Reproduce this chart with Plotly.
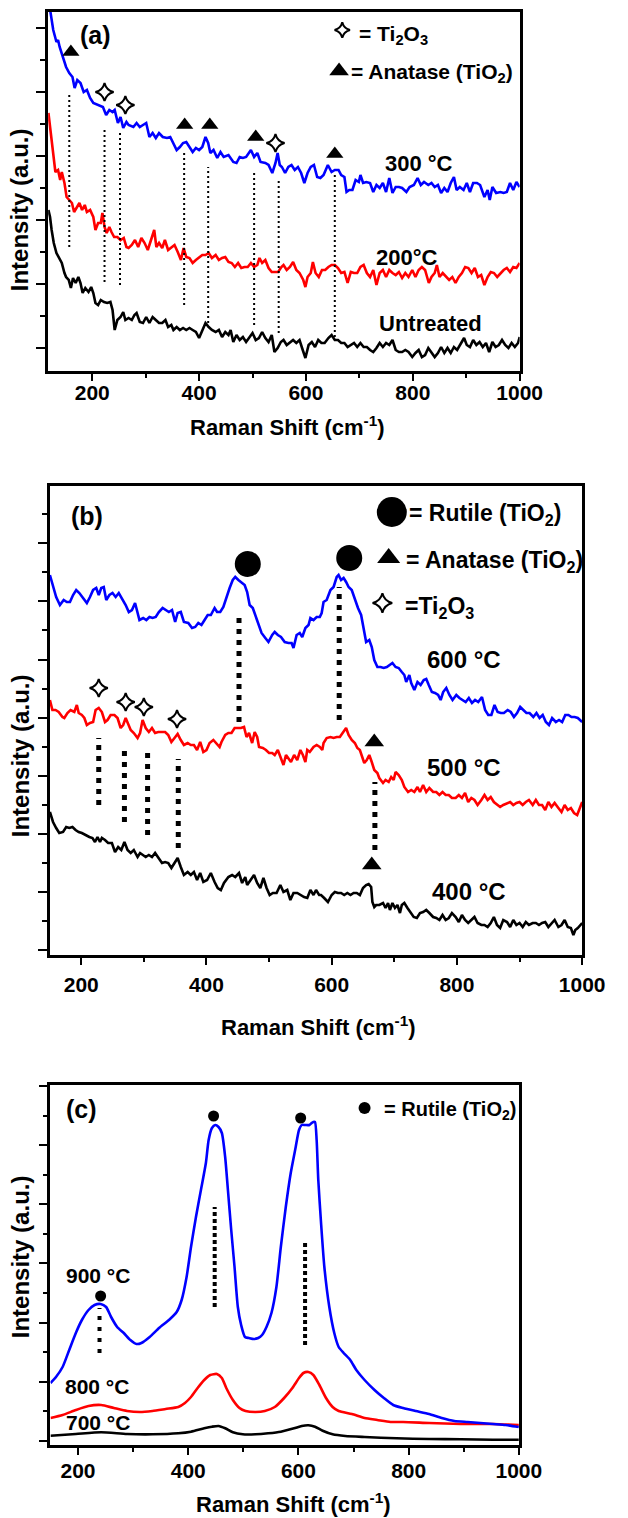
import plotly.graph_objects as go

W, H = 628, 1518

# ---------------- data (Raman shift cm^-1, intensity a.u.) ----------------
a_300C = [(118,372),(121,361),(127,341),(133,329),(136,331),(139,324),(145,314),(151,304),(157,298),(163,294),(167,283),(172,291),(178,288),(184,279),(190,281),(196,273),(202,268),(211,266),(220,264),(226,256),(232,261),(238,259),(242,261),(248,248),(253,254),(258,243),(264,249),(268,246),(277,244),(283,248),(289,244),(295,246),(301,248),(307,234),(313,238),(319,233),(325,238),(332,234),(340,233),(346,234),(352,228),(358,221),(364,224),(370,228),(376,229),(382,224),(388,219),(394,223),(400,221),(406,224),(412,234),(417,228),(421,218),(427,221),(434,213),(440,219),(446,214),(455,216),(464,209),(470,208),(476,214),(482,213),(488,214),(497,221),(503,214),(509,218),(515,209),(524,208),(530,206),(537,198),(543,208),(547,218),(551,206),(555,204),(561,198),(567,204),(573,206),(579,201),(585,204),(591,198),(597,188),(603,198),(609,204),(615,206),(621,194),(627,193),(633,196),(641,206),(648,199),(654,201),(661,201),(666,196),(672,194),(676,179),(681,181),(687,181),(693,191),(699,189),(702,196),(707,188),(713,189),(720,188),(726,179),(732,186),(738,183),(744,188),(750,179),(756,193),(762,178),(768,184),(774,184),(780,183),(788,179),(794,184),(802,186),(809,193),(815,186),(821,189),(829,186),(835,188),(841,184),(847,186),(853,178),(859,183),(865,179),(871,188),(877,194),(882,181),(888,184),(895,181),(901,188),(907,179),(913,188),(920,188),(926,186),(934,174),(940,181),(944,171),(949,184),(956,178),(964,179),(970,178),(976,179),(982,188),(988,181),(994,189),(1000,184)]
a_200C = [(118,258),(121,244),(124,228),(127,214),(131,199),(136,201),(140,191),(143,199),(148,188),(152,174),(157,171),(162,168),(166,159),(171,164),(176,168),(181,161),(186,166),(190,159),(196,161),(202,154),(206,141),(211,148),(216,148),(219,158),(223,144),(227,138),(232,144),(236,139),(241,134),(247,134),(253,131),(259,133),(264,124),(268,123),(274,126),(280,131),(286,124),(292,133),(298,128),(304,121),(310,131),(316,141),(320,124),(325,128),(331,123),(336,131),(342,121),(348,124),(354,126),(360,119),(366,111),(371,123),(376,114),(382,113),(388,108),(394,111),(400,114),(406,116),(412,116),(418,118),(424,113),(431,116),(437,111),(443,113),(449,114),(455,109),(461,108),(467,104),(473,108),(479,103),(485,104),(491,104),(497,108),(503,104),(509,106),(513,113),(518,108),(524,111),(530,103),(536,99),(542,99),(548,99),(554,104),(558,106),(564,101),(570,104),(576,109),(582,101),(588,98),(595,91),(599,84),(603,94),(609,98),(613,109),(618,98),(624,94),(630,101),(636,101),(642,104),(648,106),(654,106),(660,103),(666,98),(672,99),(678,88),(684,99),(690,98),(696,98),(702,104),(708,106),(714,98),(720,94),(726,101),(732,86),(738,98),(744,101),(750,94),(756,101),(762,98),(768,96),(774,99),(780,93),(786,98),(792,94),(799,101),(805,94),(811,101),(817,104),(823,101),(830,88),(835,94),(841,98),(845,106),(850,94),(856,98),(862,94),(868,91),(874,94),(880,88),(886,94),(892,98),(898,104),(904,103),(910,98),(916,103),(922,94),(928,96),(934,86),(940,94),(946,99),(952,98),(958,94),(964,98),(970,101),(976,103),(982,99),(988,104),(994,103),(1000,108)]
a_untreated = [(118,161),(121,154),(124,141),(128,128),(133,118),(139,111),(143,108),(148,98),(151,94),(156,91),(160,83),(164,93),(169,88),(174,94),(178,88),(182,78),(187,83),(193,79),(198,84),(202,78),(206,68),(211,66),(216,71),(222,69),(228,68),(234,69),(238,61),(242,41),(247,51),(253,54),(258,59),(262,51),(268,53),(274,51),(279,56),(283,58),(289,49),(295,48),(301,54),(307,48),(313,54),(319,51),(325,48),(331,48),(337,51),(342,44),(348,46),(352,41),(358,44),(364,41),(370,43),(376,41),(382,43),(388,41),(394,39),(400,33),(406,41),(412,48),(418,44),(424,41),(431,39),(437,41),(443,34),(449,39),(455,36),(459,41),(464,29),(470,36),(476,31),(482,34),(488,29),(494,33),(500,38),(506,31),(512,33),(518,39),(524,33),(530,29),(536,36),(541,19),(547,23),(553,29),(558,31),(564,26),(570,29),(576,31),(582,28),(588,31),(594,21),(599,13),(605,26),(611,29),(617,24),(623,31),(629,28),(635,28),(642,33),(648,36),(654,31),(660,31),(666,28),(672,28),(678,24),(684,26),(690,28),(696,24),(702,28),(708,24),(714,24),(720,21),(726,19),(732,23),(738,28),(744,24),(750,28),(756,26),(762,31),(768,21),(774,19),(780,19),(786,21),(792,19),(799,14),(805,18),(811,21),(817,14),(823,16),(829,23),(835,19),(841,14),(847,18),(853,24),(859,18),(865,23),(871,18),(877,24),(883,21),(889,26),(896,33),(901,26),(907,24),(913,31),(919,26),(925,29),(931,24),(937,28),(943,19),(949,29),(955,24),(961,26),(967,31),(973,26),(979,23),(985,28),(991,24),(997,28),(1000,34)]

b_600C = [(150,380),(155,368),(160,358),(166,350),(172,355),(177,353),(182,353),(187,360),(192,365),(197,362),(202,358),(209,352),(214,358),(219,365),(224,367),(228,360),(232,367),(236,368),(240,355),(245,360),(250,362),(255,358),(260,362),(264,358),(271,350),(276,343),(281,345),(286,352),(290,343),(293,335),(299,337),(304,335),(309,338),(314,337),(319,338),(324,343),(330,347),(335,345),(340,343),(345,345),(350,333),(354,342),(359,343),(364,333),(371,332),(377,327),(382,328),(387,332),(392,330),(397,335),(402,340),(407,340),(413,347),(417,343),(422,343),(427,348),(432,358),(437,367),(442,375),(446,378),(451,375),(456,372),(461,370),(465,363),(469,350),(474,347),(478,340),(483,332),(488,322),(494,317),(499,313),(505,320),(509,323),(514,320),(519,318),(525,313),(531,312),(536,312),(539,307),(544,320),(549,322),(553,318),(558,327),(563,330),(566,337),(571,335),(576,338),(581,338),(584,342),(587,353),(592,355),(598,365),(603,368),(608,378),(611,380),(615,375),(619,377),(623,373),(627,368),(632,365),(637,355),(642,347),(647,340),(651,328),(655,313),(660,315),(664,308),(668,295),(673,288),(678,288),(683,287),(688,288),(693,290),(697,292),(702,288),(707,287),(712,283),(716,280),(719,273),(724,280),(727,272),(732,265),(737,273),(742,270),(747,275),(751,276),(755,270),(760,263),(765,262),(770,260),(774,255),(778,263),(783,267),(788,260),(793,255),(799,260),(804,257),(809,255),(814,253),(819,257),(824,252),(829,255),(834,253),(840,258),(845,245),(850,240),(855,240),(860,250),(865,243),(870,242),(875,242),(881,245),(886,243),(891,238),(896,242),(901,248),(906,245),(911,242),(916,242),(922,238),(927,242),(932,237),(937,240),(942,233),(947,230),(952,237),(958,233),(963,235),(968,233),(973,240),(978,240),(983,238),(988,238),(993,237),(1000,233)]
b_500C = [(150,255),(154,245),(159,245),(164,243),(170,238),(173,237),(178,242),(183,245),(189,243),(193,250),(196,242),(201,240),(205,237),(209,230),(214,232),(219,233),(223,245),(228,247),(233,243),(238,233),(242,235),(247,240),(253,240),(258,237),(263,227),(267,230),(271,237),(274,232),(279,225),(284,222),(290,217),(294,222),(298,235),(303,227),(308,223),(313,227),(318,222),(323,223),(329,223),(334,223),(339,220),(344,213),(349,217),(354,221),(359,215),(364,210),(370,212),(375,210),(380,210),(385,205),(390,213),(395,203),(400,205),(405,212),(411,215),(416,212),(421,208),(424,213),(430,220),(435,222),(440,222),(445,227),(450,227),(455,227),(460,228),(464,218),(468,222),(473,212),(477,223),(481,218),(484,208),(490,207),(495,205),(500,202),(505,202),(509,200),(514,205),(519,197),(523,190),(527,200),(531,197),(535,193),(540,200),(545,195),(550,205),(554,200),(558,193),(561,205),(565,203),(571,208),(576,210),(581,208),(585,205),(587,212),(592,217),(598,218),(603,217),(608,218),(613,218),(618,222),(623,227),(627,220),(632,215),(637,212),(641,207),(645,205),(649,197),(652,192),(656,195),(660,200),(664,193),(668,185),(673,182),(676,177),(682,172),(686,175),(691,173),(695,178),(699,175),(702,183),(707,180),(712,175),(716,168),(722,163),(727,165),(732,163),(737,168),(741,163),(746,170),(751,163),(756,167),(762,163),(767,163),(772,160),(777,163),(782,160),(787,160),(792,157),(798,157),(803,160),(808,157),(813,162),(818,153),(823,157),(828,155),(833,150),(839,155),(844,160),(849,155),(854,158),(859,153),(864,150),(869,148),(874,150),(880,152),(885,153),(890,150),(895,152),(900,153),(905,150),(910,153),(915,155),(921,150),(926,155),(931,150),(936,150),(941,145),(946,153),(951,148),(956,152),(962,147),(967,143),(972,150),(977,145),(982,147),(987,142),(992,140),(996,147),(1000,153)]
b_400C = [(150,143),(155,133),(160,127),(165,122),(171,123),(176,128),(181,127),(186,128),(191,125),(196,123),(201,122),(206,120),(213,118),(218,117),(222,113),(226,118),(230,113),(233,117),(238,115),(243,112),(249,112),(254,103),(259,108),(264,105),(269,113),(274,105),(279,102),(284,105),(290,98),(294,102),(298,100),(303,98),(308,100),(313,98),(318,102),(323,97),(329,92),(334,93),(339,92),(344,87),(349,92),(354,97),(359,88),(364,80),(370,83),(375,80),(380,83),(385,75),(390,82),(395,73),(401,75),(407,82),(413,73),(418,67),(423,65),(428,72),(435,78),(441,80),(446,78),(452,82),(457,72),(462,78),(465,70),(471,75),(476,80),(481,72),(486,67),(491,77),(496,67),(501,60),(506,62),(512,62),(518,70),(523,63),(529,65),(534,55),(539,62),(545,62),(550,60),(556,58),(561,57),(566,65),(571,60),(575,65),(580,60),(583,60),(588,57),(594,53),(600,60),(605,63),(610,62),(615,62),(620,60),(625,62),(630,60),(635,62),(640,62),(645,60),(650,67),(655,70),(659,71),(663,68),(665,53),(668,48),(671,50),(676,50),(682,52),(686,47),(690,52),(693,45),(697,52),(701,47),(705,50),(709,42),(712,50),(716,52),(721,47),(726,43),(731,38),(736,37),(741,42),(746,43),(751,45),(756,42),(762,38),(767,37),(772,35),(777,40),(782,35),(787,37),(792,42),(798,38),(803,33),(808,40),(813,35),(818,32),(823,35),(828,38),(833,32),(839,30),(844,30),(849,28),(854,32),(859,38),(864,30),(869,27),(874,35),(880,33),(885,28),(890,35),(895,30),(900,32),(905,28),(910,33),(915,30),(921,32),(926,32),(931,30),(936,32),(941,33),(946,28),(951,32),(956,35),(962,28),(967,30),(972,35),(977,28),(982,27),(986,20),(989,25),(993,27),(1000,32)]

c_900C = [(150,62),(160,68),(172,78),(184,95),(196,112),(207,125),(219,135),(230,140),(241,141),(251,138),(260,128),(271,118),(283,112),(295,105),(306,101),(315,102),(330,108),(347,117),(365,125),(379,133),(388,145),(397,168),(405,198),(414,228),(423,255),(432,282),(437,305),(443,317),(449,320),(455,318),(461,312),(467,288),(472,255),(478,215),(484,178),(490,138),(496,120),(503,108),(510,107),(519,106),(527,107),(534,110),(542,118),(551,132),(560,158),(568,198),(577,238),(586,272),(595,298),(601,315),(606,320),(612,320),(620,320),(624,322),(627,323),(630,323),(633,305),(636,265),(641,222),(647,178),(656,138),(665,112),(673,98),(682,92),(694,85),(705,75),(720,65),(738,55),(755,47),(772,40),(790,37),(813,34),(837,31),(860,27),(883,24),(907,23),(930,22),(953,21),(976,20),(1000,18)]
c_800C = [(150,27),(172,30),(196,35),(219,39),(242,40),(265,37),(289,34),(312,33),(335,34),(359,36),(382,38),(394,42),(405,48),(417,57),(429,65),(440,70),(452,71),(461,67),(469,57),(481,45),(493,37),(504,34),(522,33),(539,34),(557,38),(574,47),(589,57),(601,67),(609,72),(618,73),(627,70),(638,60),(650,47),(662,38),(673,34),(697,31),(720,27),(743,25),(767,23),(790,23),(837,22),(895,21),(953,21),(1000,20)]
c_700C = [(150,9.3),(196,11),(242,12.7),(289,11),(335,10.7),(382,11.7),(405,13.3),(429,16.7),(443,18.3),(455,19),(467,16.7),(481,12.7),(499,10.7),(522,10.7),(545,11.7),(568,13.3),(592,16.7),(606,19),(618,19.7),(630,18.3),(644,14.3),(662,10.7),(685,9),(720,8),(778,6.7),(837,6),(895,5.7),(953,5.3),(1000,5.3)]

# Peak assignments (marker positions)
a_anatase_x = [160, 373, 420, 506, 654]
a_anatase_y = [319, 246, 246, 234, 217]
a_ti2o3_x = [223, 262, 543]
a_ti2o3_y = [279, 266, 228]
a_guide_x = [157, 223, 252, 372, 417, 503, 549, 654]
a_guide_top = [279, 244, 241, 219, 204, 201, 191, 196]
a_guide_bot = [124, 89, 86, 66, 48, 46, 38, 34]

b_rutile_x = [466, 628]
b_rutile_y = [391, 397]
b_ti2o3_x = [228, 271, 300, 353]
b_ti2o3_y = [267, 253, 248, 236]
b_anatase_x = [668, 664]
b_anatase_y = [213, 90]
b_guide_x = [228, 269, 306, 355, 452, 612, 669]
b_guide_top = [217, 210, 208, 196, 343, 368, 173]
b_guide_bot = [150, 133, 120, 107, 233, 235, 105]

c_rutile_x = [446, 604, 241]
c_rutile_y = [329, 327, 149]
c_guide_x = [239, 448, 612]
c_guide_top = [137, 238, 202]
c_guide_bot = [92, 138, 100]

FONT = "Arial, Liberation Sans, sans-serif"


def unzip(pairs):
    return [p[0] for p in pairs], [p[1] for p in pairs]


fig = go.Figure()


def curve(pairs, color, ax, smooth=False):
    x, y = unzip(pairs)
    line = dict(color=color, width=2.6)
    if smooth:
        line.update(shape="spline", smoothing=0.6)
    fig.add_trace(go.Scatter(x=x, y=y, mode="lines", line=line,
                             xaxis="x" + ax, yaxis="y" + ax,
                             showlegend=False, hoverinfo="skip"))


def markers(x, y, ax, symbol, size, lw=0):
    fig.add_trace(go.Scatter(x=x, y=y, mode="markers", xaxis="x" + ax, yaxis="y" + ax,
                             marker=dict(symbol=symbol, size=size, color="black",
                                         line=dict(color="black", width=lw)),
                             cliponaxis=False, showlegend=False, hoverinfo="skip"))


def guides(xs, tops, bots, ax, width, dash):
    for gx, t, b in zip(xs, tops, bots):
        fig.add_shape(type="line", x0=gx, x1=gx, y0=b, y1=t,
                      xref="x" + ax, yref="y" + ax,
                      line=dict(color="black", width=width, dash=dash))


def text(t, x, y, ax, size, xanchor="center"):
    fig.add_annotation(text=t, x=x, y=y, xref="x" + ax, yref="y" + ax,
                       showarrow=False, xanchor=xanchor, yanchor="middle",
                       font=dict(family=FONT, size=size, color="black", weight="bold"))


def ptext(t, px, py, size, angle=0, family=FONT):
    fig.add_annotation(text=t, x=px / W, y=1 - py / H, xref="paper", yref="paper",
                       showarrow=False, xanchor="center", yanchor="middle", textangle=angle,
                       font=dict(family=family, size=size, color="black", weight="bold"))


# ---- panel (a) ----
curve(a_untreated, "black", "")
curve(a_200C, "red", "")
curve(a_300C, "blue", "")
guides(a_guide_x, a_guide_top, a_guide_bot, "", 2, "2px,3px")
markers(a_anatase_x, a_anatase_y, "", "triangle-up", 15)
markers(a_ti2o3_x, a_ti2o3_y, "", "star-diamond-open", 13, 2)
markers([668], [341], "", "star-diamond-open", 11, 2)
markers([662], [300], "", "triangle-up", 17)
text("= Ti<sub>2</sub>O<sub>3</sub>", 695, 336, "", 21, "left")
text("= Anatase (TiO<sub>2</sub>)", 680, 298, "", 21, "left")
text("(a)", 206, 336, "", 25)
text("300 °C", 811, 207, "", 22)
text("200°C", 790, 113, "", 22)
text("Untreated", 833, 47, "", 22)

# ---- panel (b) ----
curve(b_400C, "black", "2")
curve(b_500C, "red", "2")
curve(b_600C, "blue", "2")
guides(b_guide_x, b_guide_top, b_guide_bot, "2", 5, "5px,6px")
markers(b_rutile_x, b_rutile_y, "2", "circle", 26)
markers(b_ti2o3_x, b_ti2o3_y, "2", "star-diamond-open", 13, 2)
markers(b_anatase_x, b_anatase_y, "2", "triangle-up", 17)
markers([696], [443], "2", "circle", 30)
markers([691], [397], "2", "triangle-up", 20)
markers([681], [352], "2", "star-diamond-open", 14, 2)
text("= Rutile (TiO<sub>2</sub>)", 721, 440, "2", 23, "left")
text("= Anatase (TiO<sub>2</sub>)", 716, 393, "2", 23, "left")
text("=Ti<sub>2</sub>O<sub>3</sub>", 714, 347, "2", 23, "left")
text("(b)", 209, 439, "2", 25)
text("600 °C", 811, 295, "2", 24)
text("500 °C", 811, 187, "2", 24)
text("400 °C", 820, 63, "2", 24)

# ---- panel (c) ----
curve(c_700C, "black", "3", True)
curve(c_800C, "red", "3", True)
curve(c_900C, "blue", "3", True)
guides(c_guide_x[:1], c_guide_top[:1], c_guide_bot[:1], "3", 4, "4px,7px")
guides(c_guide_x[1:], c_guide_top[1:], c_guide_bot[1:], "3", 4, "4px,3px")
markers(c_rutile_x, c_rutile_y, "3", "circle", 11)
markers([720], [337], "3", "circle", 12)
text("= Rutile (TiO<sub>2</sub>)", 752, 335, "3", 20, "left")
text("(c)", 207, 336, "3", 25)
text("900 °C", 236, 170, "3", 21)
text("800 °C", 234, 59, "3", 21)
text("700 °C", 236, 22.5, "3", 21)

# ---- axis titles ----
ytitle = "Intensity (a.u.)"
xtitle = "Raman Shift (cm<sup>-1</sup>)"
ptext(ytitle, 21, 210, 24, -90)
ptext(ytitle, 21, 756, 24, -90)
ptext(ytitle, 21, 1257, 24, -90)
ptext(xtitle, 298, 426, 22)
ptext(xtitle, 331, 1026, 22)
ptext(xtitle, 305, 1503, 22)


def xax(l, r, rng, anchor, standoff):
    return dict(domain=[l / W, r / W], range=rng, anchor=anchor,
                showline=True, linewidth=2.5, linecolor="black", mirror=True,
                showgrid=False, zeroline=False,
                ticks="outside", ticklen=7, tickwidth=2, tickcolor="black",
                tickmode="linear", tick0=0, dtick=200, ticklabelstandoff=standoff,
                minor=dict(ticks="outside", ticklen=4, tickwidth=2, tickcolor="black",
                           tick0=0, dtick=100, showgrid=False),
                tickfont=dict(family=FONT, size=21, color="black", weight="bold"))


def yax(t, b, top, tick0, dtick, anchor):
    return dict(domain=[1 - b / H, 1 - t / H], range=[0, top], anchor=anchor,
                showline=True, linewidth=2.5, linecolor="black", mirror=True,
                showgrid=False, zeroline=False, showticklabels=False,
                ticks="outside", ticklen=9, tickwidth=2, tickcolor="black",
                tickmode="linear", tick0=tick0, dtick=dtick,
                minor=dict(ticks="outside", ticklen=5, tickwidth=2, tickcolor="black",
                           tick0=tick0, dtick=dtick / 2, showgrid=False))


fig.update_layout(
    width=W, height=H,
    margin=dict(l=0, r=0, t=0, b=0),
    paper_bgcolor="white", plot_bgcolor="white",
    showlegend=False,
    xaxis=xax(50, 539.4, [117.5, 1000], "y", -6),
    yaxis=yax(11.7, 371, 359.3, 22.7, 64, "x"),
    xaxis2=xax(51.8, 604.3, [150, 1000], "y2", 2),
    yaxis2=yax(486, 955, 469, 5, 58.1, "x2"),
    xaxis3=xax(52.4, 538.6, [150, 1000], "y3", -2),
    yaxis3=yax(1085, 1445, 360, 4.3, 59.1, "x3"),
)

# remove the browser's default 8px page margin so the figure sits at the window origin
fig.write_html("out.html",
               config={"displayModeBar": False},
               post_script="document.body.style.margin='0';document.body.style.overflow='hidden';")
